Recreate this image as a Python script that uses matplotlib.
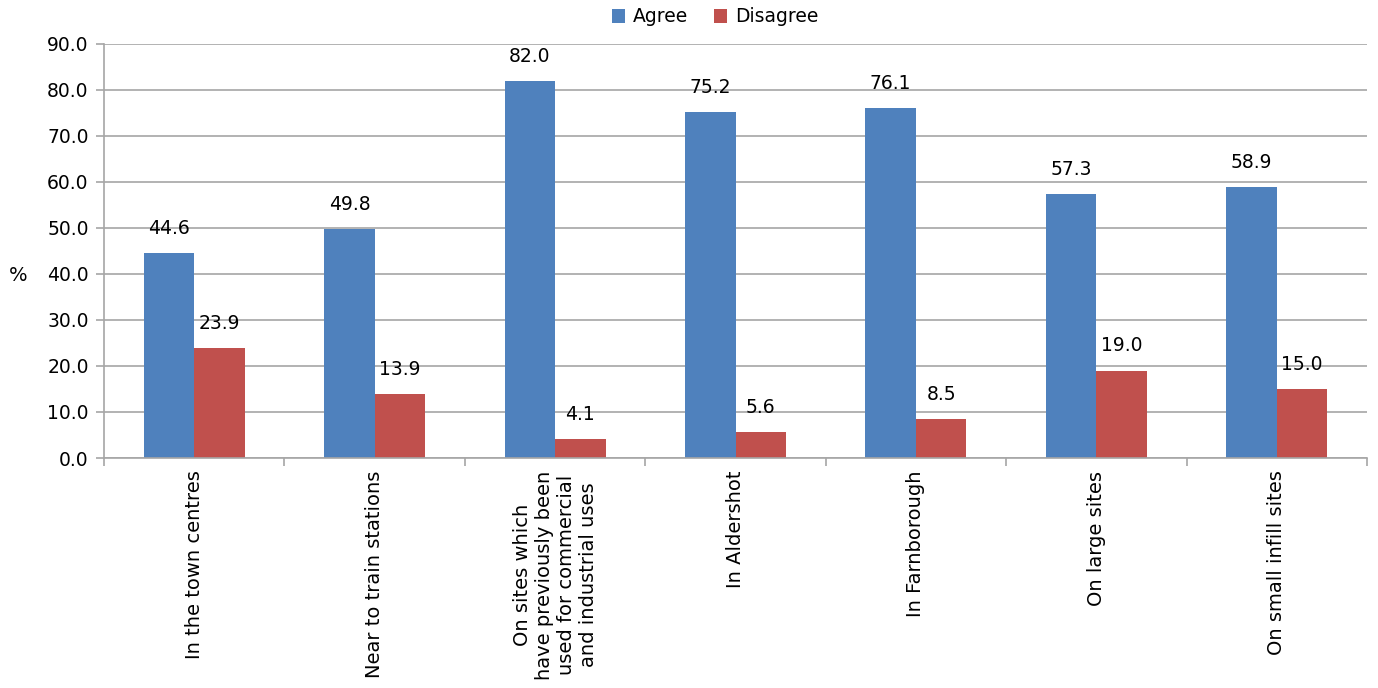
import matplotlib.pyplot as plt
import numpy as np

categories = ["In the town centres", "Near to train stations",
              "On sites which\nhave previously been\nused for commercial\nand industrial uses",
              "In Aldershot", "In Farnborough", "On large sites", "On small infill sites"]
agree = [44.6, 49.8, 82.0, 75.2, 76.1, 57.3, 58.9]
disagree = [23.9, 13.9, 4.1, 5.6, 8.5, 19.0, 15.0]

blue = '#4F81BD'
red = '#C0504D'
grey = '#A6A6A6'

fig = plt.figure(figsize=(13.78, 6.88), dpi=100)
ax = fig.add_axes([104/1378, 1-458/688, (1367-104)/1378, (458-44)/688])

x = np.arange(len(categories))
w = 0.28
b1 = ax.bar(x - w/2, agree, w, color=blue, label='Agree')
b2 = ax.bar(x + w/2, disagree, w, color=red, label='Disagree')

for bars in (b1, b2):
    for r in bars:
        ax.annotate(f'{r.get_height():.1f}', (r.get_x() + r.get_width()/2, r.get_height()),
                    xytext=(0, 11), textcoords='offset points', ha='center', va='bottom',
                    fontsize=13.5)

ax.set_xlim(-0.5, len(categories) - 0.5)
ax.set_ylim(0, 90)
ax.set_yticks(np.arange(0, 91, 10))
ax.set_yticklabels([f'{v:.1f}' for v in np.arange(0, 91, 10)], fontsize=13.5)
ax.yaxis.grid(True, color=grey, linewidth=1.2)
ax.set_axisbelow(True)

ax.set_xticks(x)
ax.set_xticklabels(categories, rotation=90, fontsize=14, va='top', ha='center',
                   multialignment='center', linespacing=1.2)
ax.tick_params(axis='x', length=0, pad=9)
ax.set_xticks(np.arange(-0.5, len(categories), 1), minor=True)
ax.tick_params(axis='x', which='minor', length=6, color=grey, width=1.2)
ax.tick_params(axis='y', length=6, color=grey, width=1.2, pad=5)

for s in ['top', 'right']:
    ax.spines[s].set_visible(False)
for s in ['left', 'bottom']:
    ax.spines[s].set_color(grey)
    ax.spines[s].set_linewidth(1.2)

ax.set_ylabel('%', rotation=0, fontsize=14, va='center', ha='center')
ax.yaxis.set_label_coords(-0.068, 0.44)

fig.legend(handles=[b1, b2], loc='center', bbox_to_anchor=(715/1378, 1-17/688), ncol=2,
           frameon=False, fontsize=13.5, handlelength=0.7, handleheight=0.7,
           columnspacing=1.4, handletextpad=0.4)

fig.savefig('out.png', dpi=100)
